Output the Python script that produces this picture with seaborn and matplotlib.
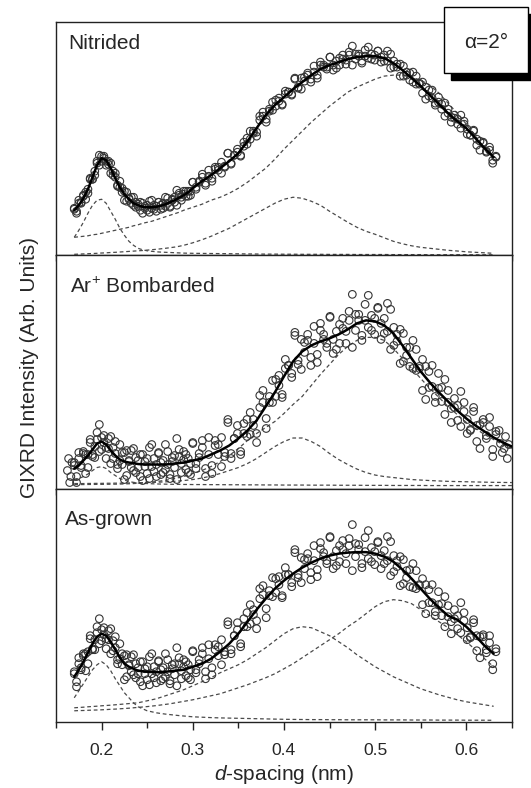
import seaborn as sns
import matplotlib.pyplot as plt
from matplotlib.patches import Rectangle
from matplotlib.ticker import MultipleLocator

# measured d-spacing positions (nm), shared by all scans
d_obs = [0.1700, 0.1725, 0.1750, 0.1775, 0.1800, 0.1825, 0.1850, 0.1875, 0.1900, 0.1925,
         0.1950, 0.1975, 0.2000, 0.2025, 0.2050, 0.2075, 0.2100, 0.2125, 0.2150, 0.2175,
         0.2200, 0.2225, 0.2250, 0.2275, 0.2300, 0.2325, 0.2350, 0.2375, 0.2400, 0.2425,
         0.2450, 0.2475, 0.2500, 0.2525, 0.2550, 0.2575, 0.2600, 0.2625, 0.2650, 0.2675,
         0.2700, 0.2725, 0.2750, 0.2775, 0.2800, 0.2825, 0.2850, 0.2875, 0.2900, 0.2925,
         0.2950, 0.2975, 0.3000,
         0.3035, 0.3070, 0.3105, 0.3140, 0.3175, 0.3210, 0.3245, 0.3280, 0.3315, 0.3350,
         0.3385, 0.3420, 0.3455, 0.3490, 0.3525, 0.3560, 0.3595, 0.3630, 0.3665, 0.3700,
         0.3735, 0.3770, 0.3805, 0.3840, 0.3875, 0.3910, 0.3945, 0.3980, 0.4015, 0.4050,
         0.4085, 0.4120, 0.4155, 0.4190, 0.4225, 0.4260, 0.4295, 0.4330, 0.4365, 0.4400,
         0.4435, 0.4470, 0.4505, 0.4540, 0.4575, 0.4610, 0.4645, 0.4680, 0.4715, 0.4750,
         0.4785, 0.4820, 0.4855, 0.4890, 0.4925, 0.4960, 0.4995, 0.5030, 0.5065, 0.5100,
         0.5135, 0.5170, 0.5205, 0.5240, 0.5275, 0.5310, 0.5345, 0.5380, 0.5415, 0.5450,
         0.5485, 0.5520, 0.5555, 0.5590, 0.5625, 0.5660, 0.5695, 0.5730, 0.5765, 0.5800,
         0.5835, 0.5870, 0.5905, 0.5940, 0.5975, 0.6010, 0.6045, 0.6080, 0.6115, 0.6150,
         0.6185, 0.6220, 0.6255, 0.6290, 0.6325]

# two passes per sample
i_nit_a = [46, 44, 55, 53, 59, 56, 66, 76, 76, 80,
           92, 100, 94, 97, 94, 94, 82, 84, 82, 70,
           68, 67, 55, 63, 57, 52, 58, 48, 51, 45,
           52, 47, 50, 43, 55, 46, 49, 53, 46, 52,
           49, 57, 49, 55, 58, 50, 60, 58, 64, 59,
           64, 60, 73, 68, 73, 78, 72, 85, 74, 86,
           85, 93, 88, 102, 91, 100, 103, 99, 113, 111,
           124, 122, 123, 135, 143, 133, 146, 145, 155, 154,
           151, 164, 163, 161, 177, 168, 166, 178, 182, 176,
           183, 177, 193, 190, 186, 198, 190, 187, 197, 196,
           191, 203, 209, 196, 201, 192, 199, 208, 196, 200,
           204, 193, 200, 194, 201, 188, 191, 179, 189, 180,
           182, 173, 179, 171, 162, 168, 159, 165, 150, 153,
           146, 152, 142, 133, 140, 136, 127, 134, 126, 120,
           125, 110, 114, 113, 103, 105, 92, 99]
i_nit_b = [47, 42, 52, 52, 60, 63, 62, 77, 76, 84,
           94, 90, 99, 99, 90, 91, 92, 80, 78, 69,
           74, 63, 64, 54, 56, 58, 50, 53, 49, 53,
           42, 49, 45, 54, 47, 50, 44, 53, 50, 47,
           58, 52, 48, 56, 53, 65, 62, 55, 61, 64,
           59, 64, 73, 66, 74, 81, 70, 79, 77, 88,
           88, 82, 89, 102, 92, 100, 106, 100, 109, 117,
           116, 124, 119, 139, 139, 136, 144, 153, 149, 157,
           150, 161, 163, 160, 176, 167, 177, 174, 180, 173,
           189, 180, 190, 188, 188, 198, 185, 194, 190, 200,
           195, 200, 190, 201, 199, 194, 205, 197, 201, 195,
           204, 198, 194, 204, 187, 194, 188, 191, 179, 183,
           175, 183, 171, 172, 173, 156, 165, 157, 152, 158,
           151, 139, 146, 138, 137, 131, 140, 131, 121, 120,
           124, 116, 105, 112, 104, 108, 95, 98]

i_bom_a = [23, 12, 36, 23, 35, 15, 34, 46, 34, 31,
           49, 64, 39, 46, 41, 50, 25, 41, 47, 24,
           28, 36, 9, 38, 28, 21, 40, 16, 28, 12,
           34, 22, 30, 10, 44, 17, 24, 36, 14, 28,
           19, 37, 14, 27, 33, 9, 32, 25, 37, 19,
           30, 14, 45, 25, 31, 41, 20, 51, 15, 43,
           34, 51, 32, 66, 30, 50, 55, 34, 65, 52,
           76, 63, 55, 81, 98, 60, 92, 86, 109, 103,
           94, 129, 123, 115, 156, 128, 119, 146, 154, 131,
           145, 126, 165, 154, 141, 172, 149, 139, 164, 160,
           145, 177, 194, 158, 174, 148, 168, 193, 158, 170,
           180, 149, 170, 157, 179, 143, 154, 125, 155, 133,
           141, 120, 139, 120, 98, 122, 101, 123, 86, 100,
           87, 109, 86, 66, 90, 83, 62, 86, 69, 58,
           81, 47, 64, 69, 50, 62, 32, 57]
i_bom_b = [26, 6, 30, 21, 37, 34, 21, 49, 32, 42,
           56, 37, 51, 53, 30, 40, 52, 30, 35, 20,
           44, 24, 36, 13, 27, 38, 18, 31, 21, 34,
           8, 27, 15, 41, 22, 30, 12, 35, 26, 16,
           44, 24, 10, 31, 21, 50, 39, 16, 29, 34,
           16, 25, 46, 20, 35, 48, 12, 34, 23, 48,
           44, 22, 36, 69, 35, 50, 63, 37, 55, 69,
           54, 69, 46, 93, 86, 70, 86, 108, 92, 113,
           91, 120, 123, 111, 153, 124, 149, 136, 148, 123,
           162, 134, 158, 149, 145, 171, 135, 157, 145, 170,
           157, 168, 141, 174, 168, 153, 184, 161, 173, 154,
           181, 165, 155, 185, 139, 161, 147, 159, 127, 141,
           122, 148, 118, 122, 129, 89, 117, 102, 92, 115,
           101, 74, 98, 80, 81, 68, 97, 77, 55, 59,
           77, 63, 40, 66, 53, 71, 39, 54]
# the Ar+ scan reaches a little further on both sides
d_bom_extra = [0.1625, 0.1638, 0.1650, 0.1663, 0.1675,
               0.6360, 0.6375, 0.6395, 0.6415, 0.6430, 0.6450, 0.6465]
i_bom_extra = [18, 30, 6, 12, 26,
               58, 45, 36, 40, 52, 30, 44]

i_asg_a = [48, 40, 64, 54, 66, 51, 70, 83, 73, 72,
           89, 103, 81, 87, 83, 91, 68, 81, 85, 62,
           63, 68, 42, 67, 57, 50, 67, 44, 54, 40,
           60, 48, 55, 37, 68, 44, 50, 61, 41, 54,
           45, 62, 41, 53, 58, 36, 58, 51, 62, 46,
           57, 42, 70, 52, 58, 68, 50, 77, 47, 72,
           66, 82, 67, 97, 68, 86, 92, 75, 103, 95,
           117, 107, 101, 123, 136, 104, 131, 125, 143, 137,
           126, 154, 147, 139, 172, 147, 139, 162, 168, 149,
           161, 145, 179, 169, 158, 185, 165, 156, 176, 172,
           158, 183, 197, 165, 177, 154, 170, 191, 160, 170,
           179, 153, 171, 161, 180, 150, 161, 136, 162, 144,
           152, 134, 151, 136, 117, 137, 119, 137, 106, 117,
           106, 125, 105, 88, 112, 106, 89, 109, 94, 84,
           102, 71, 85, 87, 69, 79, 52, 73]
i_asg_b = [50, 35, 58, 52, 68, 68, 58, 86, 72, 82,
           95, 78, 92, 94, 73, 82, 93, 71, 74, 58,
           78, 57, 66, 45, 56, 65, 47, 58, 48, 60,
           36, 53, 42, 65, 48, 55, 39, 60, 52, 43,
           68, 50, 38, 57, 47, 74, 64, 43, 55, 60,
           44, 52, 71, 49, 62, 74, 43, 63, 54, 77,
           75, 57, 70, 100, 72, 86, 99, 78, 95, 109,
           98, 112, 93, 133, 127, 113, 126, 144, 129, 145,
           124, 147, 147, 135, 169, 144, 164, 153, 163, 142,
           176, 152, 173, 165, 161, 184, 153, 171, 160, 181,
           168, 176, 151, 178, 172, 158, 184, 163, 174, 157,
           180, 166, 158, 185, 146, 166, 155, 165, 138, 151,
           135, 158, 133, 137, 143, 108, 132, 119, 110, 130,
           118, 95, 116, 100, 103, 93, 119, 101, 82, 85,
           99, 86, 64, 85, 72, 86, 58, 70]

# fitted curve and peak components
d_fit = [0.170, 0.175, 0.180, 0.185, 0.190, 0.195, 0.200, 0.205, 0.210, 0.215,
         0.220, 0.225, 0.230, 0.235, 0.240, 0.245, 0.250, 0.255, 0.260, 0.265,
         0.270, 0.275, 0.280, 0.285, 0.290, 0.295, 0.300,
         0.31, 0.32, 0.33, 0.34, 0.35, 0.36, 0.37, 0.38, 0.39, 0.40,
         0.41, 0.42, 0.43, 0.44, 0.45, 0.46, 0.47, 0.48, 0.49, 0.50,
         0.51, 0.52, 0.53, 0.54, 0.55, 0.56, 0.57, 0.58, 0.59, 0.60,
         0.61, 0.62, 0.63]
d_fit_mid = d_fit + [0.64, 0.65]

fit_nitrided = [45, 50, 57, 66, 78, 90, 97, 95, 87, 77,
                68, 61, 56, 52, 50, 48.5, 48, 48, 48.5, 49.5,
                51, 53, 55, 57.5, 60, 63, 67,
                74, 80, 87, 94, 102, 114, 127, 140, 150, 158,
                166, 173, 180, 186, 190, 193, 196, 198, 199, 199,
                197, 192, 185, 177, 169, 160, 151, 142, 134, 127,
                117, 107, 98]
nit_p1 = [18, 25, 33, 42, 50, 55, 56, 52, 44, 36,
          27, 20, 14, 10, 7, 5.5, 4.5, 4, 3.5, 3.2,
          3, 2.8, 2.6, 2.4, 2.2, 2.1, 2,
          1.9, 1.8, 1.7, 1.6, 1.5, 1.4, 1.3, 1.2, 1.2, 1.1,
          1.1, 1.0, 1.0, 1.0, 0.9, 0.9, 0.9, 0.8, 0.8, 0.8,
          0.8, 0.7, 0.7, 0.7, 0.7, 0.6, 0.6, 0.6, 0.6, 0.6,
          0.5, 0.5, 0.5]
nit_p2 = [1, 1.2, 1.4, 1.6, 1.8, 2, 2.3, 2.5, 2.8, 3,
          3.3, 3.6, 3.9, 4.2, 4.5, 4.8, 5.2, 5.6, 6, 6.5,
          7, 7.6, 8.2, 9, 10, 11.2, 12.5,
          15.5, 19, 23, 27, 32, 37, 42, 47, 52, 56,
          58, 57, 54, 50, 44, 38.5, 33, 28, 24, 21,
          17.5, 14, 11.5, 9.5, 8, 7, 6, 5, 4.3, 3.5,
          3, 2.5, 2]
nit_p3 = [18, 18.5, 19, 19.5, 20.5, 21, 22, 23, 24, 25,
          26, 27, 28, 29.5, 30.5, 32, 33, 34, 35.5, 37,
          38.5, 40, 41.5, 43, 45, 46.5, 48,
          51, 55, 58, 62, 67, 73, 80, 87, 96, 106,
          115, 124, 133, 141, 149, 156, 163, 168, 172, 176,
          179, 180, 180, 178, 175, 170, 162, 152, 142, 131,
          119, 107, 95]

fit_bombarded = [20, 23, 28, 33, 39, 45, 47, 44, 38, 33,
                 29, 27, 26, 25.5, 24.5, 24.2, 24, 24, 24, 24,
                 24, 24.5, 25, 25.5, 26, 27, 28,
                 30, 34, 38, 43, 50, 58, 68, 82, 96, 112,
                 127, 137, 143, 147, 150, 154, 159, 165, 168, 167,
                 163, 155, 143, 130, 117, 106, 96, 87, 78, 70,
                 63, 57, 51, 46, 42]
bom_p1 = [8, 10, 12, 14.5, 18, 21, 22, 20, 16, 13,
          10, 8.5, 7, 6.2, 5.5, 5.2, 5, 4.8, 4.6, 4.5,
          4.4, 4.3, 4.2, 4.2, 4.1, 4.1, 4,
          4, 3.9, 3.9, 3.8, 3.8, 3.7, 3.7, 3.6, 3.6, 3.5,
          3.5, 3.5, 3.4, 3.4, 3.4, 3.3, 3.3, 3.3, 3.2, 3.2,
          3.2, 3.1, 3.1, 3.1, 3.1, 3.0, 3.0, 3.0, 3.0, 3.0,
          3.0, 3.0, 3.0, 3.0, 3.0]
bom_p2 = [5, 5, 5, 5.1, 5.1, 5.2, 5.2, 5.3, 5.3, 5.4,
          5.4, 5.5, 5.6, 5.7, 5.8, 5.9, 6, 6.1, 6.3, 6.5,
          6.7, 7, 7.3, 7.6, 8, 8.5, 9,
          10.5, 12.5, 15, 18, 21, 25, 30, 36, 42, 47,
          50.5, 50.5, 47, 42, 35, 29, 24, 19.5, 16, 13.5,
          12, 11, 10, 9, 8.5, 8, 7.6, 7.2, 7, 6.8,
          6.6, 6.4, 6.2, 6.1, 6]
bom_p3 = [4, 4, 4, 4.1, 4.1, 4.2, 4.2, 4.3, 4.3, 4.4,
          4.5, 4.6, 4.8, 5, 5.3, 5.6, 6, 6.5, 7, 7.6,
          8.3, 9, 10, 11, 12, 13.5, 15,
          18, 22, 27, 33, 40, 48, 55, 61, 67, 75,
          84, 92, 103, 114, 124, 134, 142, 148, 151, 151,
          148, 140, 130, 120, 110, 100, 91, 82, 74, 66,
          60, 54, 49, 44, 40]

fit_asgrown = [45, 52, 60, 69, 78, 85, 88, 86, 80, 72,
               64, 58, 55, 53, 51, 50.5, 50, 49.7, 49.5, 49.7,
               50, 50.5, 51, 51.5, 52, 53.5, 55,
               58, 63, 70, 78, 88, 100, 112, 123, 133, 141,
               148, 154, 159, 163, 166, 168, 169, 169.5, 169.5, 168,
               165, 160, 152, 143, 133, 123, 114, 106, 102, 95,
               86, 76, 68]
asg_p1 = [24, 31, 38, 45, 52, 57, 60, 57, 51, 43,
          36, 29, 24, 19, 15, 13, 11, 10, 9, 8.3,
          7.7, 7.2, 6.7, 6.2, 5.8, 5.4, 5,
          4.6, 4.2, 3.9, 3.7, 3.5, 3.3, 3.1, 2.9, 2.7, 2.5,
          2.4, 2.3, 2.2, 2.2, 2.1, 2.1, 2.0, 2.0, 2.0, 2.0,
          1.9, 1.9, 1.9, 1.8, 1.8, 1.8, 1.7, 1.7, 1.7, 1.6,
          1.6, 1.6, 1.5]
asg_p2 = [14, 14.3, 14.6, 15, 15.3, 15.6, 16, 16.3, 16.6, 17,
          17.4, 17.8, 18.2, 18.6, 19, 20, 21, 22, 23, 24.5,
          26, 27.5, 29, 30.5, 32, 34, 36,
          40, 44, 49, 53, 57, 62, 68, 74, 81, 88,
          93, 95, 94, 90, 86, 80, 74, 67, 61, 55,
          50, 45, 41, 37, 33, 30, 27, 24.5, 22, 20,
          18.5, 17, 15.5]
asg_p3 = [11, 11.2, 11.3, 11.5, 11.7, 11.8, 12, 12.2, 12.5, 12.7,
          13, 13.3, 13.6, 14, 14.4, 14.8, 15.2, 15.7, 16.2, 16.8,
          17.4, 18, 18.8, 19.6, 20.4, 21.2, 22,
          24, 26, 28, 31, 34, 37, 40.5, 44, 48, 53,
          58, 64, 70, 76, 82, 88, 95, 101, 108, 115,
          120, 122, 121, 118, 112, 106, 100, 94, 87, 80,
          72, 63, 55]

sns.set_theme(style="ticks")
plt.rcParams['font.family'] = ['Liberation Sans', 'DejaVu Sans']
plt.rcParams['mathtext.fontset'] = 'custom'
plt.rcParams['mathtext.rm'] = 'Liberation Sans'
plt.rcParams['mathtext.it'] = 'Liberation Sans:italic'

fig, axes = plt.subplots(3, 1, figsize=(5.31, 7.88), dpi=100, sharex=True)
fig.subplots_adjust(left=0.1055, right=0.964, top=0.972, bottom=0.084, hspace=0)

panels = [
    ("Nitrided", d_obs + d_obs, i_nit_a + i_nit_b,
     d_fit, fit_nitrided, [nit_p1, nit_p2, nit_p3], 0.026, 0.884),
    ("Ar$^{+}$ Bombarded", d_obs + d_obs + d_bom_extra, i_bom_a + i_bom_b + i_bom_extra,
     d_fit_mid, fit_bombarded, [bom_p1, bom_p2, bom_p3], 0.031, 0.838),
    ("As-grown", d_obs + d_obs, i_asg_a + i_asg_b,
     d_fit, fit_asgrown, [asg_p1, asg_p2, asg_p3], 0.020, 0.845),
]

for ax, (label, d, obs, d_f, fit, comps, lx, ly) in zip(axes, panels):
    for comp in comps:
        sns.lineplot(x=d_f, y=comp, ax=ax, color="#4a4a4a", linewidth=0.9,
                     linestyle=(0, (3, 2.2)), estimator=None)
    sns.scatterplot(x=d, y=obs, ax=ax, marker="o", s=30, facecolor="none",
                    edgecolor="#353535", linewidth=0.8, zorder=3)
    sns.lineplot(x=d_f, y=fit, ax=ax, color="black", linewidth=1.8,
                 estimator=None, zorder=4)
    ax.text(lx, ly, label, transform=ax.transAxes, fontsize=15, ha="left", va="baseline")
    ax.set_ylim(0, 233)
    ax.set_yticks([])
    ax.set_ylabel("")
    for sp in ax.spines.values():
        sp.set_visible(True)
        sp.set_linewidth(1.0)
        sp.set_color("#222222")
    ax.tick_params(axis="x", which="major", direction="out", length=6, width=1.0,
                   color="#222222", labelsize=12.6, pad=9)
    ax.tick_params(axis="x", which="minor", direction="out", length=4, width=1.0,
                   color="#222222")

ax = axes[-1]
ax.set_xlim(0.15, 0.65)
ax.set_xticks([0.2, 0.3, 0.4, 0.5, 0.6])
ax.xaxis.set_minor_locator(MultipleLocator(0.05))
ax.set_xticklabels(["0.2", "0.3", "0.4", "0.5", "0.6"])
ax.set_xlabel("$\\it{d}$-spacing (nm)", fontsize=15, labelpad=4)

fig.text(0.056, 0.533, "GIXRD Intensity (Arb. Units)", rotation=90, fontsize=15,
         ha="center", va="center")

# alpha label box with drop shadow
fig.add_artist(Rectangle((451 / 531, 1 - 80 / 788), 84 / 531, 66 / 788,
                         transform=fig.transFigure, facecolor="black",
                         edgecolor="black", zorder=5))
fig.add_artist(Rectangle((444 / 531, 1 - 73 / 788), 84 / 531, 66 / 788,
                         transform=fig.transFigure, facecolor="white",
                         edgecolor="black", linewidth=1.0, zorder=6))
fig.text(486 / 531, 1 - 43 / 788, "\u03b1=2\u00b0", fontsize=15, ha="center",
         va="center", zorder=7)

plt.savefig("out.png", dpi=100)
